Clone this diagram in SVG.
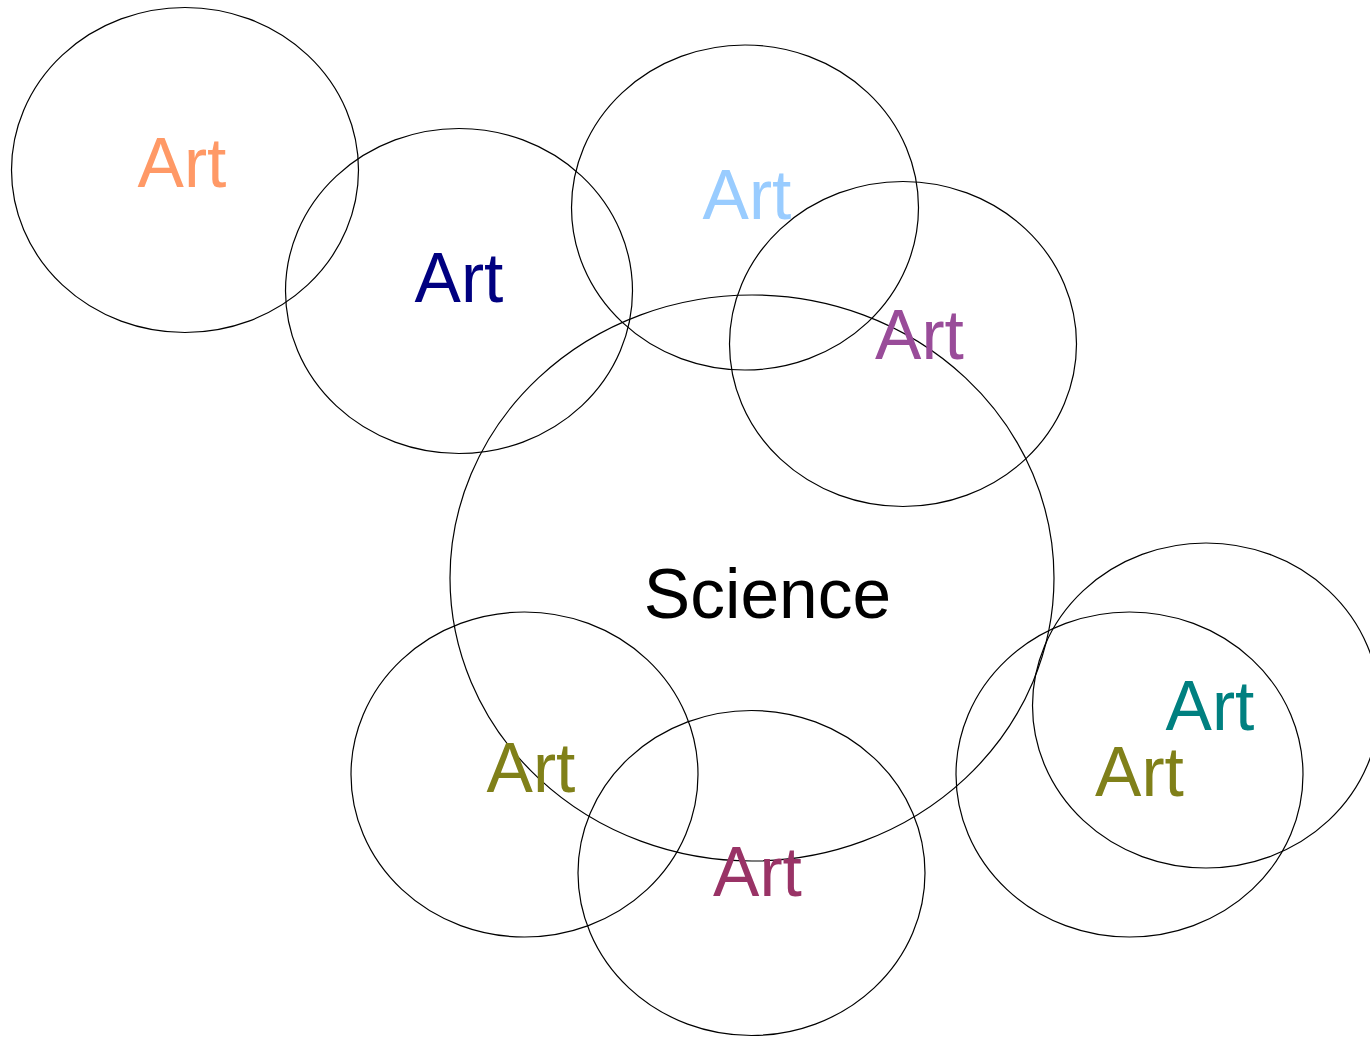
<svg xmlns="http://www.w3.org/2000/svg" width="1370" height="1037" viewBox="0 0 1370 1037">
<style>
ellipse{fill:none;stroke:#000;stroke-width:1.2}
text{font-family:"Liberation Sans",Arial,sans-serif;font-size:69.5px;text-anchor:middle}
</style>
<rect width="1370" height="1037" fill="#fff"/>
<g id="science"><ellipse cx="752" cy="578" rx="302" ry="283"/><text x="767.5" y="618" fill="#000">Science</text></g>
<g id="art1"><ellipse cx="185" cy="170" rx="173.5" ry="162.5"/><text x="182" y="187" fill="#ff9966">Art</text></g>
<g id="art2"><ellipse cx="459" cy="291" rx="173.5" ry="162.5"/><text x="459" y="302" fill="#000080">Art</text></g>
<g id="art3"><ellipse cx="745" cy="207.5" rx="173.5" ry="162.5"/><text x="747" y="219" fill="#99ccff">Art</text></g>
<g id="art4"><ellipse cx="903" cy="344" rx="173.5" ry="162.5"/><text x="919.5" y="359" fill="#994c99">Art</text></g>
<g id="art5"><ellipse cx="524.5" cy="774.5" rx="173.5" ry="162.5"/><text x="531" y="792" fill="#808019">Art</text></g>
<g id="art6"><ellipse cx="751.5" cy="873" rx="173.5" ry="162.5"/><text x="757.5" y="896" fill="#993366">Art</text></g>
<g id="art7"><ellipse cx="1206" cy="705.5" rx="173.5" ry="162.5"/><text x="1210" y="730" fill="#008080">Art</text></g>
<g id="art8"><ellipse cx="1129.5" cy="774.5" rx="173.5" ry="162.5"/><text x="1139.5" y="796" fill="#808019">Art</text></g>
<g id="connectors"/>
</svg>
